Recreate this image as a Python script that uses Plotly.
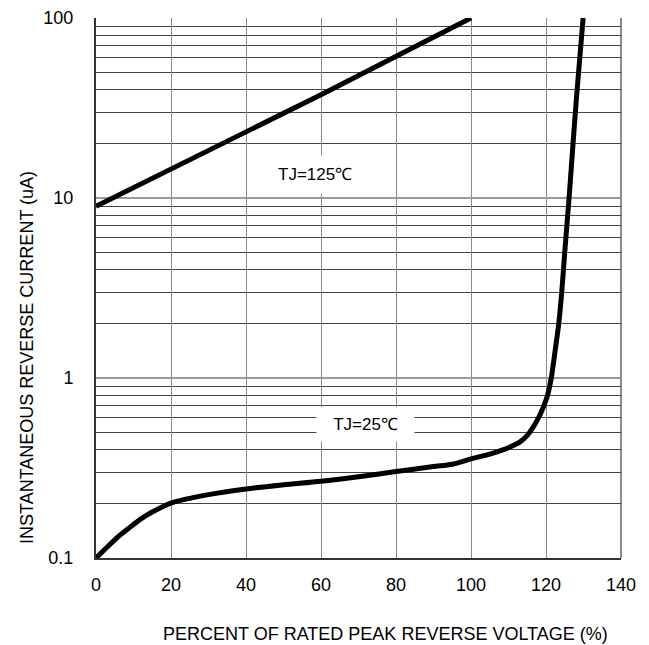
import plotly.graph_objects as go

# ---- data ----
x_125 = [0, 20, 40, 60, 80, 100]
y_125 = [9.0, 14.6, 23.3, 37.5, 61.0, 100.0]

x_25 = [0, 3, 6, 9, 12, 15, 20, 30, 40, 50, 60, 70, 80, 90, 95, 100, 105, 110,
        113, 115, 116.5, 118, 119.3, 120.4, 121.4, 122.5, 123.4, 124.2, 125.0,
        126.3, 127.2, 128.3, 129.9]
y_25 = [0.1, 0.115, 0.132, 0.148, 0.165, 0.18, 0.202, 0.225, 0.242, 0.255,
        0.267, 0.283, 0.302, 0.322, 0.332, 0.355, 0.378, 0.41, 0.44, 0.48,
        0.53, 0.6, 0.69, 0.8, 1.0, 1.45, 2.0, 3.0, 5.0, 11.0, 20.0, 40.0, 100.0]

x_ticks = [0, 20, 40, 60, 80, 100, 120, 140]
y_ticks = [0.1, 1, 10, 100]
y_tick_labels = ["0.1", "1", "10", "100"]

label_125 = "TJ=125℃"
label_25 = "TJ=25℃"
x_title = "PERCENT OF RATED PEAK REVERSE VOLTAGE (%)"
y_title = "INSTANTANEOUS REVERSE CURRENT (uA)"

FONT = "Liberation Sans, Arial, sans-serif"

W, H = 649, 645
ml, mt = 96, 18
mr = W - 621
mb = H - 558
pw, ph = W - ml - mr, H - mt - mb


def px_to_paper(px, py):
    return (px - ml) / pw, 1 - (py - mt) / ph


fig = go.Figure()
fig.add_trace(go.Scatter(x=x_125, y=y_125, mode="lines",
                         line=dict(color="black", width=5), showlegend=False))
fig.add_trace(go.Scatter(x=x_25, y=y_25, mode="lines", line_shape="spline",
                         line=dict(color="black", width=5, smoothing=0.8),
                         showlegend=False))

fig.add_annotation(x=58.5, y=1.128, xref="x", yref="y", text=label_125,
                   showarrow=False, font=dict(family=FONT, size=17, color="black"),
                   bgcolor="white", borderpad=9)
fig.add_annotation(x=71.8, y=-0.261, xref="x", yref="y", text="  " + label_25 + "  ",
                   showarrow=False, font=dict(family=FONT, size=17, color="black"),
                   bgcolor="white", borderpad=7)

tx, ty = px_to_paper(385, 634)
fig.add_annotation(x=tx, y=ty, xref="paper", yref="paper", text=x_title,
                   showarrow=False, xanchor="center", yanchor="middle",
                   font=dict(family=FONT, size=18, color="black"))
tx, ty = px_to_paper(27, 358)
fig.add_annotation(x=tx, y=ty, xref="paper", yref="paper", text=y_title,
                   textangle=-90, showarrow=False, xanchor="center", yanchor="middle",
                   font=dict(family=FONT, size=18, color="black"))

fig.update_layout(
    width=W, height=H,
    margin=dict(l=ml, r=mr, t=mt, b=mb, autoexpand=False),
    paper_bgcolor="white", plot_bgcolor="white",
    font=dict(family=FONT, size=18, color="black"),
)
fig.update_xaxes(range=[0, 140], tickvals=x_ticks, showgrid=True, automargin=False,
                 gridcolor="#8a8a8a", gridwidth=1, zeroline=False,
                 showline=True, linecolor="#333", linewidth=2,
                 ticks="", ticklabelstandoff=9, ticklabeloverflow="allow",
                 tickfont=dict(family=FONT, size=18, color="black"))
fig.update_yaxes(type="log", range=[-1, 2], tickvals=y_ticks, ticktext=y_tick_labels,
                 showgrid=True, gridcolor="#9a9a9a", gridwidth=2, zeroline=False,
                 automargin=False,
                 showline=True, linecolor="#333", linewidth=2,
                 ticks="", ticklabelstandoff=17, ticklabeloverflow="allow",
                 minor=dict(showgrid=True, gridcolor="#444", gridwidth=1, dtick="D1"),
                 tickfont=dict(family=FONT, size=18, color="black"))

fig.add_shape(type="line", xref="paper", yref="paper", x0=1, x1=1, y0=0, y1=1,
              line=dict(color="#8a8a8a", width=2), layer="below")

fig.write_html("out.html", config={"displayModeBar": False},
               post_script="document.body.style.margin='0';"
                           "document.body.style.overflow='hidden';")
